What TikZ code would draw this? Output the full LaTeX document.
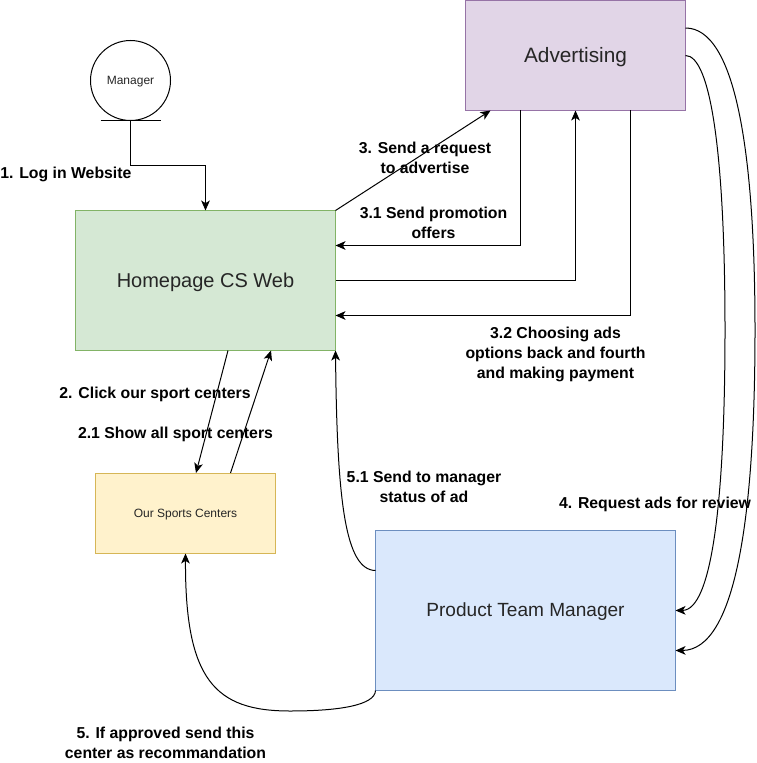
\documentclass[tikz,border=0pt]{standalone}
\usepackage{fontspec}
\setmainfont{Liberation Sans}
\usetikzlibrary{arrows.meta}
\definecolor{grn}{HTML}{D5E8D4}\definecolor{grnd}{HTML}{82B366}
\definecolor{pur}{HTML}{E1D5E7}\definecolor{purd}{HTML}{9673A6}
\definecolor{yel}{HTML}{FFF2CC}\definecolor{yeld}{HTML}{D6B656}
\definecolor{blu}{HTML}{DAE8FC}\definecolor{blud}{HTML}{6C8EBF}
\tikzset{x=0.75pt,y=-0.75pt,
 conn/.style={draw=black,line width=0.75pt,-{Stealth[length=7.5pt,width=6.5pt,inset=2pt]}},
 shp/.style={line width=0.75pt,inner sep=0pt,outer sep=0pt},
 lab/.style={font=\fontsize{11.85pt}{15pt}\selectfont\bfseries,align=center,inner sep=0pt,text=black},
 bigA/.style={font=\fontsize{15pt}{18pt}\selectfont,text=black!85},
 bigB/.style={font=\fontsize{15.6pt}{18pt}\selectfont,text=black!85},
 bigC/.style={font=\fontsize{14.3pt}{18pt}\selectfont,text=black!85},
 small/.style={font=\fontsize{9pt}{11pt}\selectfont,text=black!85}}
\begin{document}
\begin{tikzpicture}
\useasboundingbox (0,0) rectangle (756,763);
\node[shp,draw=grnd,fill=grn,minimum width=195pt,minimum height=105pt] (home) at (205.5,280.5) {};
\node[bigA] (hometext) at (205.5,282) {Homepage CS Web};
\node[shp,draw=purd,fill=pur,minimum width=165pt,minimum height=82.5pt] (ad) at (575.5,55.5) {};
\node[bigB] (adtext) at (575.5,57) {Advertising};
\node[shp,draw=yeld,fill=yel,minimum width=135pt,minimum height=60pt] (sc) at (185.5,513.5) {};
\node[small] (sctext) at (185.5,515) {Our Sports Centers};
\node[shp,draw=blud,fill=blu,minimum width=225pt,minimum height=120pt] (pm) at (525.5,610.5) {};
\node[bigC] (pmtext) at (525.5,611.5) {Product Team Manager};
\node[shp,draw=black,fill=white,circle,minimum size=60pt] (mgr) at (130.5,80.5) {};
\node[small] (mgrtext) at (130.5,81.5) {Manager};
\coordinate (bl) at (100.5,120.5); \coordinate (br) at (160.5,120.5);
\draw[line width=0.75pt] (bl) -- (br);
\draw[conn] (mgr.south) -- (130.5,165.5) -- (205.5,165.5) -- (home.north);
\coordinate (a1) at (490.5,110.5);
\draw[conn] (home.north east) -- (a1);
\draw[conn] (520.5,110.5) -- (520.5,245.5) -- (335.5,245.5);
\draw[conn] (home.east) -- (575.5,280.5) -- (575.5,110.5);
\draw[conn] (630.5,110.5) -- (630.5,315.5) -- (335.5,315.5);
\draw[conn] (228,350.5) -- (196,473);
\draw[conn] (230.5,473) -- (271,350.5);
\draw[conn] (375.5,570.5) .. controls (345,570) and (337,500) .. (home.south east);
\draw[conn] (pm.south west) .. controls (375,705) and (340,711) .. (290,711) .. controls (215,711) and (185,680) .. (sc.south);
\draw[conn] (685.5,28) .. controls (735,28) and (755,150) .. (755,330) .. controls (755,520) and (735,650) .. (675.5,650.5);
\draw[conn] (685.5,55.5) .. controls (710,55.5) and (725,150) .. (725,330) .. controls (725,500) and (712,610) .. (675.5,610.5);
\node[lab,anchor=west] (l1) at (0,174) {1. Log in Website};
\node[lab] (l3) at (425,157.5) {3. Send a request\\to advertise};
\node[lab] (l31) at (433.5,223) {3.1 Send promotion\\offers};
\node[lab] (l32) at (555.5,354) {3.2 Choosing ads\\options back and fourth\\and making payment};
\node[lab] (l2) at (155,394) {2. Click our sport centers};
\node[lab] (l21) at (175.5,434) {2.1 Show all sport centers};
\node[lab] (l51) at (424,486.5) {5.1 Send to manager\\status of ad};
\node[lab] (l4) at (655,504) {4. Request ads for review};
\node[lab] (l5) at (165.5,743) {5. If approved send this\\center as recommandation};
\end{tikzpicture}
\end{document}
